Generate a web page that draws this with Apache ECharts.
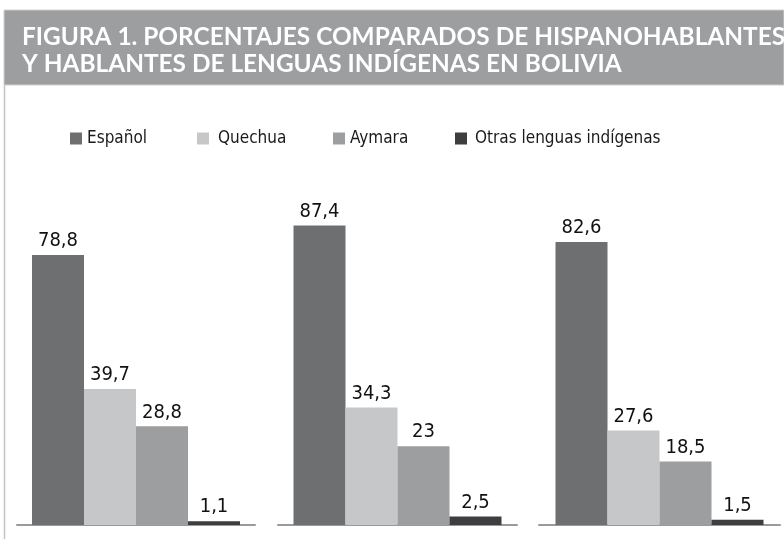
<!DOCTYPE html>
<html>
<head>
<meta charset="utf-8">
<script src="https://cdn.jsdelivr.net/npm/echarts@6/dist/echarts.min.js"></script>
<style>
  html, body { margin: 0; padding: 0; background: #ffffff; }
  #chart { width: 784px; height: 539px; }
</style>
</head>
<body>
<div id="chart"></div>
<script>
// Speaker shares (%) for each language, one value per panel
const languages = ['Español', 'Quechua', 'Aymara', 'Otras lenguas indígenas'];
const espanol = [78.8, 87.4, 82.6];
const quechua = [39.7, 34.3, 27.6];
const aymara = [28.8, 23, 18.5];
const otras = [1.1, 2.5, 1.5];
const titleLines = [
  'FIGURA 1. PORCENTAJES COMPARADOS DE HISPANOHABLANTES',
  'Y HABLANTES DE LENGUAS INDÍGENAS EN BOLIVIA'
];

const seriesValues = [espanol, quechua, aymara, otras];
const colors = ['#6e6f71', '#c6c7c9', '#9d9ea0', '#3e3e40'];
const bodyFont = '"DejaVu Sans Condensed", "DejaVu Sans", sans-serif';
const titleFont = 'bold 24.4px Lato, "Open Sans", sans-serif';

// Three side-by-side panels, each with its own baseline
const panels = [
  { left: 17, width: 238 },
  { left: 278, width: 239 },
  { left: 539, width: 241 }
];

const grid = panels.map(p => ({ left: p.left, width: p.width, top: 182.4, bottom: 14 }));
const xAxis = panels.map((p, g) => ({
  type: 'category',
  gridIndex: g,
  data: [''],
  axisTick: { show: false },
  axisLabel: { show: false },
  axisLine: { show: true, lineStyle: { color: '#9a9a9a', width: 2 } }
}));
const yAxis = panels.map((p, g) => ({
  type: 'value',
  gridIndex: g,
  min: 0,
  max: 100,
  show: false
}));

const series = [];
panels.forEach((p, g) => {
  languages.forEach((name, i) => {
    series.push({
      name: name,
      type: 'bar',
      xAxisIndex: g,
      yAxisIndex: g,
      data: [seriesValues[i][g]],
      barWidth: 52,
      barGap: '0%',
      itemStyle: { color: colors[i] },
      label: {
        show: true,
        position: 'top',
        distance: 4,
        color: '#111111',
        fontFamily: bodyFont,
        fontSize: 20,
        formatter: d => String(d.value).replace('.', ',')
      }
    });
  });
});

// One legend block per language so each swatch sits at its own spot
const legendSpots = [
  { left: 70, gap: 0 },
  { left: 197, gap: 4 },
  { left: 333, gap: 0 },
  { left: 455, gap: 3 }
];
const legend = languages.map((name, i) => ({
  data: [name],
  left: legendSpots[i].left,
  top: 130,
  padding: 0,
  icon: 'rect',
  itemWidth: 12,
  itemHeight: 12,
  selectedMode: false,
  textStyle: {
    fontFamily: bodyFont,
    fontSize: 17,
    color: '#1a1a1a',
    padding: [0, 0, 0, legendSpots[i].gap]
  }
}));

const chart = echarts.init(document.getElementById('chart'), null, { renderer: 'canvas' });
chart.setOption({
  animation: false,
  backgroundColor: '#ffffff',
  grid: grid,
  xAxis: xAxis,
  yAxis: yAxis,
  legend: legend,
  series: series,
  graphic: [
    {
      type: 'rect',
      shape: { x: 4, y: 10, width: 780, height: 75 },
      style: { fill: '#9d9ea0', stroke: '#cfd0d1', lineWidth: 1 },
      z: 0
    },
    {
      type: 'line',
      shape: { x1: 4.5, y1: 85, x2: 4.5, y2: 539 },
      style: { stroke: '#c4c4c4', lineWidth: 1.5 },
      z: 0
    },
    {
      type: 'text',
      x: 22,
      y: 37.5,
      style: { text: titleLines[0], fill: '#ffffff', font: titleFont, verticalAlign: 'middle' },
      z: 1
    },
    {
      type: 'text',
      x: 22,
      y: 64.5,
      style: { text: titleLines[1], fill: '#ffffff', font: titleFont, verticalAlign: 'middle' },
      z: 1
    }
  ]
});
</script>
</body>
</html>
